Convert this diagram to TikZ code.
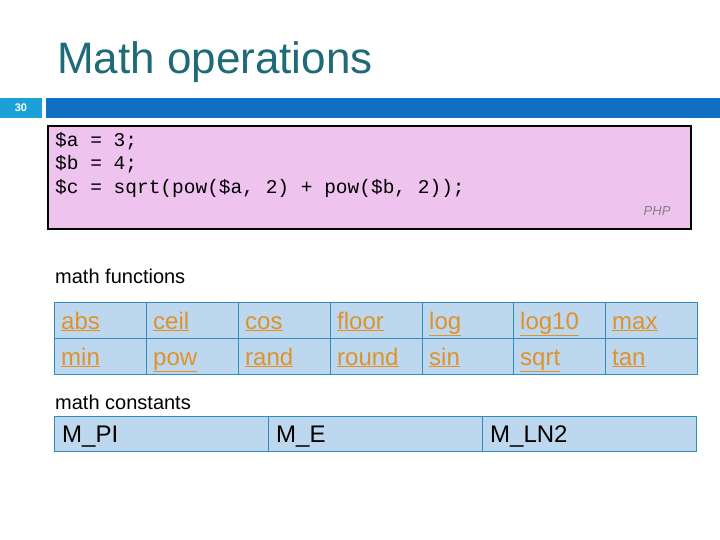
\documentclass[tikz,border=0pt]{standalone}
\usepackage{fontspec}
\setmainfont{Liberation Sans}
\setmonofont{Liberation Mono}
\begin{document}
\begin{tikzpicture}[x=1pt,y=-1pt,
  cell/.style={draw=cellline,fill=cellfill,line width=1pt,anchor=north west,inner sep=0pt},
  lnk/.style={anchor=base west,text=linkc,font=\fontsize{24}{26}\selectfont},
  cst/.style={anchor=base west,font=\fontsize{24}{26}\selectfont},
  lbl/.style={anchor=base west,font=\fontsize{20}{22}\selectfont},
  code/.style={anchor=base west,font=\ttfamily\fontsize{19.5}{21}\selectfont}]
\definecolor{cellline}{HTML}{2E8FB8}
\definecolor{cellfill}{HTML}{BDD7EE}
\definecolor{linkc}{HTML}{E0922A}
\definecolor{titlec}{HTML}{1E6A78}
\definecolor{barc}{HTML}{1170C2}
\definecolor{numc}{HTML}{1BA1D8}
\definecolor{codefill}{HTML}{EEC4EE}
\useasboundingbox (0,0) rectangle (720,540);
\node[anchor=base west,text=titlec,font=\fontsize{44}{48}\selectfont,inner sep=0pt] (title) at (57,74) {Math operations};
\fill[numc] (0,98) rectangle (42,118);
\node[text=white,font=\bfseries\fontsize{11}{12}\selectfont] (num) at (21,108) {30};
\fill[barc] (46,98) rectangle (720,118);
\draw[line width=2.5pt,fill=codefill] (48,126) rectangle (691,229);
\node[code,inner sep=0pt] (c1) at (55,147) {\$a = 3;};
\node[code,inner sep=0pt] (c2) at (55,170) {\$b = 4;};
\node[code,inner sep=0pt] (c3) at (55,194) {\$c = sqrt(pow(\$a, 2) + pow(\$b, 2));};
\node[anchor=east,text=gray,font=\itshape\fontsize{13}{14}\selectfont] (php) at (674,211) {PHP};
\node[lbl,inner sep=0pt] (mf) at (55,283) {math functions};
\foreach \x/\a/\b [count=\i] in {54/abs/min,146/ceil/pow,238/cos/rand,330/floor/round,422/log/sin,513/log10/sqrt,605/max/tan}{
  \node[cell,minimum width=92pt,minimum height=36pt] (t\i) at (\x,302) {};
  \node[cell,minimum width=92pt,minimum height=36pt] (u\i) at (\x,338) {};
  \node[lnk,inner sep=0pt] (ta\i) at (\x+7,329) {\underline{\a}};
  \node[lnk,inner sep=0pt] (ub\i) at (\x+7,365) {\underline{\b}};
}
\node[lbl,inner sep=0pt] (mc) at (55,409) {math constants};
\foreach \x/\a [count=\i] in {54/M\_PI,268/M\_E,482/M\_LN2}{
  \node[cell,minimum width=214pt,minimum height=35pt] (k\i) at (\x,416) {};
  \node[cst,inner sep=0pt] (kt\i) at (\x+8,442) {\a};
}
\end{tikzpicture}
\end{document}
